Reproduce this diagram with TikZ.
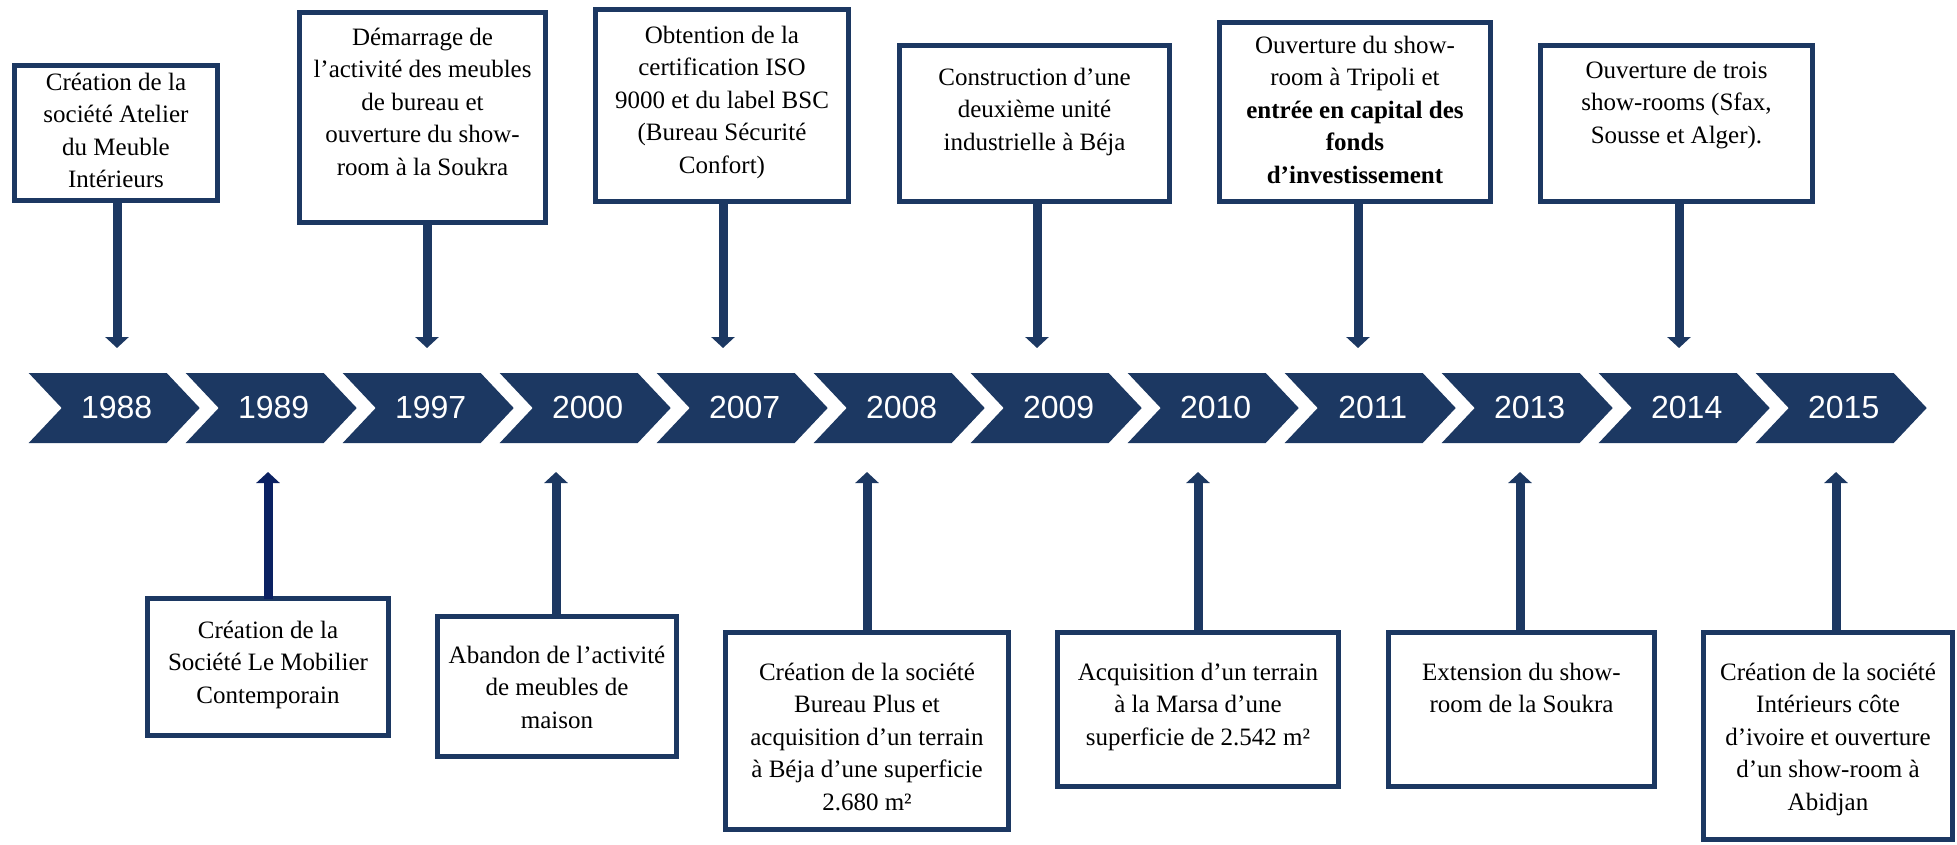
\documentclass[tikz,border=0pt]{standalone}
\usepackage{fontspec}
\setmainfont{Liberation Serif}
\newfontfamily\yearfont{Liberation Sans}
\usetikzlibrary{arrows.meta}
\definecolor{navy}{HTML}{1C3862}
\definecolor{navydark}{HTML}{0B2162}
\tikzset{
  evbox/.style={draw=navy, line width=5pt, inner sep=0pt, outer sep=0pt, anchor=north west, fill=white},
  year/.style={text=white, font=\yearfont\fontsize{32}{38}\selectfont, inner sep=0pt},
  arr/.style={draw=navy, line width=9pt, -{Triangle[width=23pt,length=11pt]}},
  arrdark/.style={arr, draw=navydark, fill=navydark},
}
\newcommand{\evbox}[7]{%
  \pgfmathsetmacro{\bw}{#4-#2-5}%
  \pgfmathsetmacro{\bh}{#5-#3-5}%
  \pgfmathsetmacro{\bp}{#6-25.32}%
  \node[evbox] (#1) at (#2+2.5,#3+2.5) {\fontsize{25}{32.6}\selectfont\parbox[c][\bh pt][t]{\bw pt}{\centering\vspace*{\bp pt}\strut #7}};%
}
\begin{document}
\begin{tikzpicture}[x=1pt,y=-1pt]
\useasboundingbox (0,0) rectangle (1957,844);
\fill[white] (0,0) rectangle (1957,844);
% timeline chevrons
\foreach \yr [count=\i from 0] in {1988,1989,1997,2000,2007,2008,2009,2010,2011,2013,2014,2015} {
  \pgfmathsetmacro{\xo}{28.7+157*\i}
  \fill[navy] (\xo,373) -- ++(138,0) -- ++(33,35) -- ++(-33,35) -- ++(-138,0) -- ++(33,-35) -- cycle;
  \node[year] (y\yr) at (\xo+88,407) {\yr};
}
% top boxes
\evbox{b88}{12}{63}{220}{203}{27}{Création de la\\société Atelier\\du Meuble\\Intérieurs}
\evbox{b97}{297}{10}{548}{225}{35}{Démarrage de\\l’activité des meubles\\de bureau et\\ouverture du show-\\room à la Soukra}
\evbox{b07}{593}{7}{851}{204}{36}{Obtention de la\\certification ISO\\9000 et du label BSC\\(Bureau Sécurité\\Confort)}
\evbox{b09}{897}{43}{1172}{204}{42}{Construction d’une\\deuxième unité\\industrielle à Béja}
\evbox{b11}{1217}{20}{1493}{204}{33}{Ouverture du show-\\room à Tripoli et\\\textbf{entrée en capital des}\\\textbf{fonds}\\\textbf{d’investissement}}
\evbox{b14}{1538}{43}{1815}{204}{35}{Ouverture de trois\\show-rooms (Sfax,\\Sousse et Alger).}
% bottom boxes
\evbox{b89}{145}{596}{391}{738}{42}{Création de la\\Société Le Mobilier\\Contemporain}
\evbox{b00}{435}{614}{679}{759}{49}{Abandon de l’activité\\de meubles de\\maison}
\evbox{b08}{723}{630}{1011}{832}{50}{Création de la société\\Bureau Plus et\\acquisition d’un terrain\\à Béja d’une superficie\\2.680 m²}
\evbox{b10}{1055}{630}{1341}{789}{50}{Acquisition d’un terrain\\à la Marsa d’une\\superficie de 2.542 m²}
\evbox{b13}{1386}{630}{1657}{789}{50}{Extension du show-\\room de la Soukra}
\evbox{b15}{1701}{630}{1955}{842}{50}{Création de la société\\Intérieurs côte\\d’ivoire et ouverture\\d’un show-room à\\Abidjan}
% arrow tips
\coordinate (a88) at (117,348);
\coordinate (a97) at (427,348);
\coordinate (a07) at (723,348);
\coordinate (a09) at (1037,348);
\coordinate (a11) at (1358,348);
\coordinate (a14) at (1679,348);
\coordinate (a89) at (268,472);
\coordinate (a00) at (556,472);
\coordinate (a08) at (867,472);
\coordinate (a10) at (1198,472);
\coordinate (a13) at (1520,472);
\coordinate (a15) at (1836,472);
% arrows
\foreach \k in {88,97,07,09,11,14} {
  \draw[arr] (b\k.south -| a\k) -- (a\k);
}
\foreach \k in {00,08,10,13,15} {
  \draw[arr] (b\k.north -| a\k) -- (a\k);
}
\draw[arrdark] (b89.north -| a89) -- (a89);
\end{tikzpicture}
\end{document}
